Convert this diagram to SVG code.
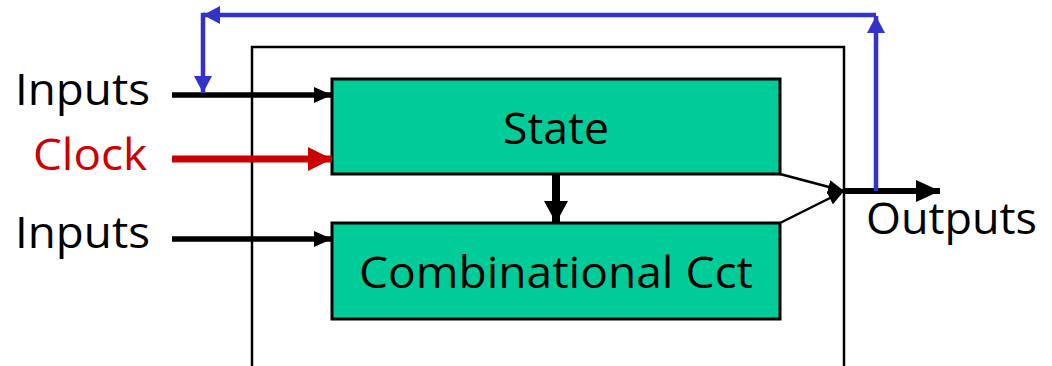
<svg xmlns="http://www.w3.org/2000/svg" width="1052" height="366" viewBox="0 0 1052 366">
<style>
.lbl{font-family:"Open Sans","Noto Sans","Liberation Sans",sans-serif;font-size:44px;fill:#000}
.box{fill:#00CC99;stroke:#000;stroke-width:3}
.frame{fill:none;stroke:#000;stroke-width:2.5}
</style>
<defs>
<marker id="ahB" viewBox="0 0 18 16" refX="18" refY="8" markerWidth="18" markerHeight="16" markerUnits="userSpaceOnUse" orient="auto"><path d="M0,0 L18,8 L0,16 Z" fill="#000"/></marker>
<marker id="ahR" viewBox="0 0 24 24" refX="24" refY="12" markerWidth="24" markerHeight="24" markerUnits="userSpaceOnUse" orient="auto"><path d="M0,0 L24,12 L0,24 Z" fill="#CC0000"/></marker>
<marker id="ahD" viewBox="0 0 22 24" refX="22" refY="12" markerWidth="22" markerHeight="24" markerUnits="userSpaceOnUse" orient="auto"><path d="M0,0 L22,12 L0,24 Z" fill="#000"/></marker>
<marker id="ahU" viewBox="0 0 17 18" refX="17" refY="9" markerWidth="17" markerHeight="18" markerUnits="userSpaceOnUse" orient="auto"><path d="M0,0 L17,9 L0,18 Z" fill="#3333CC"/></marker>
<marker id="ahO" viewBox="0 0 24 22" refX="24" refY="11" markerWidth="24" markerHeight="22" markerUnits="userSpaceOnUse" orient="auto"><path d="M0,0 L24,11 L0,22 Z" fill="#000"/></marker>
<marker id="ahS" viewBox="0 0 16 14" refX="16" refY="7" markerWidth="16" markerHeight="14" markerUnits="userSpaceOnUse" orient="auto"><path d="M0,0 L16,7 L0,14 Z" fill="#000"/></marker>
</defs>
<rect width="1052" height="366" fill="#fff"/>
<g id="frame"><path class="frame" d="M252,370 L252,47 L844,47 L844,370"/></g>
<g id="state"><rect class="box" x="332" y="79" width="448" height="95"/><text class="lbl" x="556" y="144" text-anchor="middle" textLength="106" lengthAdjust="spacingAndGlyphs">State</text></g>
<g id="comb"><rect class="box" x="332" y="223" width="448" height="96"/><text class="lbl" x="556" y="288" text-anchor="middle" textLength="394" lengthAdjust="spacingAndGlyphs">Combinational Cct</text></g>
<g id="inputs1"><text class="lbl" x="15" y="105" textLength="135" lengthAdjust="spacingAndGlyphs">Inputs</text></g>
<g id="clock"><text class="lbl" x="33" y="170" textLength="114" lengthAdjust="spacingAndGlyphs" style="fill:#CC0000">Clock</text></g>
<g id="inputs2"><text class="lbl" x="15" y="248" textLength="135" lengthAdjust="spacingAndGlyphs">Inputs</text></g>
<g id="outputs"><text class="lbl" x="866" y="234" textLength="171" lengthAdjust="spacingAndGlyphs">Outputs</text></g>
<g id="connectors" fill="none">
<line x1="172" y1="95" x2="332" y2="95" stroke="#000" stroke-width="5.5" marker-end="url(#ahB)"/>
<line x1="172" y1="159" x2="332" y2="159" stroke="#CC0000" stroke-width="7" marker-end="url(#ahR)"/>
<line x1="172" y1="239" x2="332" y2="239" stroke="#000" stroke-width="5.5" marker-end="url(#ahB)"/>
<line x1="556" y1="174" x2="556" y2="223" stroke="#000" stroke-width="8" marker-end="url(#ahD)"/>
<line x1="780" y1="174" x2="844" y2="191" stroke="#000" stroke-width="2.5" marker-end="url(#ahS)"/>
<line x1="780" y1="223" x2="844" y2="191" stroke="#000" stroke-width="2.5" marker-end="url(#ahS)"/>
<line x1="844" y1="191" x2="940" y2="191" stroke="#000" stroke-width="6" marker-end="url(#ahO)"/>
<line x1="876" y1="191" x2="876" y2="16" stroke="#3333CC" stroke-width="4.5" marker-end="url(#ahU)"/>
<path d="M876,15 L203,15" stroke="#3333CC" stroke-width="4.5" marker-end="url(#ahU)"/>
<path d="M205,15 L203,15 L203,93" stroke="#3333CC" stroke-width="4.5" marker-end="url(#ahU)"/>
</g>
</svg>
